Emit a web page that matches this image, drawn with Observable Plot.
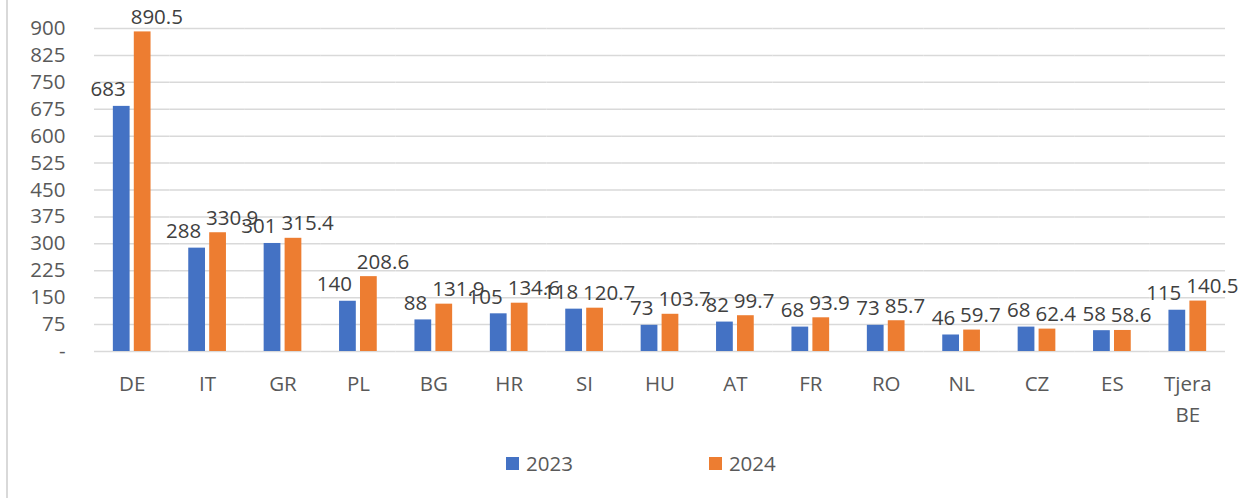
<!DOCTYPE html>
<html>
<head>
<meta charset="utf-8">
<script src="https://cdn.jsdelivr.net/npm/d3@7"></script>
<script src="https://cdn.jsdelivr.net/npm/@observablehq/plot@0.6"></script>
<style>
  html, body { margin: 0; padding: 0; background: #fff; }
  #wrap { position: relative; width: 1253px; height: 498px; overflow: hidden; background: #fff; font-family: "Open Sans", sans-serif; }
  #border { position: absolute; left: 6px; top: 0; width: 2px; height: 498px; background: #d9d9d9; }
  #chart { position: absolute; left: 0; top: 0; }
  #legend { position: absolute; top: 449px; left: 506px; display: flex; align-items: center; font-size: 20.5px; color: #595959; }
  .item { display: flex; align-items: center; }
  .sw { width: 13px; height: 13px; margin-right: 7px; }
</style>
</head>
<body>
<div id="wrap">
  <div id="border"></div>
  <div id="chart"></div>
  <div id="legend"></div>
</div>
<script>
const categories = ["DE", "IT", "GR", "PL", "BG", "HR", "SI", "HU", "AT", "FR", "RO", "NL", "CZ", "ES", "Tjera\nBE"];
const years = ["2023", "2024"];
const values2023 = [683, 288, 301, 140, 88, 105, 118, 73, 82, 68, 73, 46, 68, 58, 115];
const values2024 = [890.5, 330.9, 315.4, 208.6, 131.9, 134.6, 120.7, 103.7, 99.7, 93.9, 85.7, 59.7, 62.4, 58.6, 140.5];
const yTicks = [0, 75, 150, 225, 300, 375, 450, 525, 600, 675, 750, 825, 900];
const colors = ["#4472C4", "#ED7D31"];

const data = [];
categories.forEach((c, i) => {
  data.push({country: c, year: years[0], value: values2023[i]});
  data.push({country: c, year: years[1], value: values2024[i]});
});

const fmt = v => String(v);
const FS = 20.5;

const chart = Plot.plot({
  width: 1253,
  height: 440,
  marginLeft: 94,
  marginRight: 28,
  marginTop: 28,
  marginBottom: 89,
  style: {fontFamily: "Open Sans, sans-serif", fontSize: FS + "px", background: "transparent"},
  fx: {domain: categories, paddingInner: 0, paddingOuter: 0, round: false, label: null},
  x: {domain: years, paddingInner: 0.2, paddingOuter: 0.9, round: false, axis: null},
  y: {domain: [0, 900], label: null},
  color: {domain: years, range: colors},
  marks: [
    Plot.gridY(yTicks, {stroke: "#d9d9d9", strokeOpacity: 1, strokeWidth: 1.5}),
    Plot.axisY({ticks: yTicks, tickSize: 0, tickPadding: 29, tickFormat: d => d === 0 ? "-" : String(d), fill: "#595959", fontSize: FS, label: null}),
    Plot.axisFx({anchor: "bottom", tickSize: 0, tickPadding: 18, fill: "#595959", fontSize: FS, lineHeight: 1.5, label: null}),
    Plot.barY(data, {fx: "country", x: "year", y: "value", fill: "year"}),
    Plot.text(data.filter(d => d.year === years[0]), {fx: "country", x: "year", y: "value", text: d => fmt(d.value), lineAnchor: "bottom", textAnchor: "end", dy: -10, dx: 4, fill: "#404040", fontSize: FS}),
    Plot.text(data.filter(d => d.year === years[1]), {fx: "country", x: "year", y: "value", text: d => fmt(d.value), lineAnchor: "bottom", textAnchor: "start", dy: -8, dx: -12, fill: "#404040", fontSize: FS})
  ]
});
document.getElementById("chart").appendChild(chart);

const legend = document.getElementById("legend");
years.forEach((y, i) => {
  const item = document.createElement("div");
  item.className = "item";
  if (i > 0) item.style.marginLeft = "136px";
  const sw = document.createElement("div");
  sw.className = "sw";
  sw.style.background = colors[i];
  const t = document.createElement("span");
  t.textContent = y;
  item.appendChild(sw);
  item.appendChild(t);
  legend.appendChild(item);
});
</script>
</body>
</html>
